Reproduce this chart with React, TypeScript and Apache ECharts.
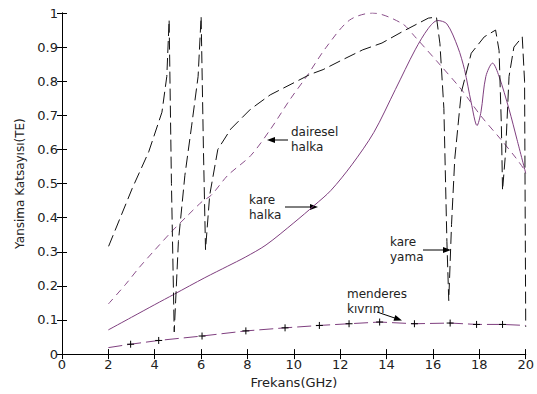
import React, { useEffect, useRef } from "react";
import * as echarts from "echarts";

// ---- Data ----
const xTicks = { min: 0, max: 20, interval: 2 };
const yTicks = { min: 0, max: 1, interval: 0.1 };

// "kare yama" (black long-dashed)
const kareYama: number[][] = [
  [2.01, 0.316], [3.03, 0.486], [3.74, 0.593], [4.31, 0.709], [4.52, 0.814], [4.62, 0.98],
  [4.72, 0.5], [4.84, 0.065], [5.02, 0.33], [5.3, 0.524], [5.59, 0.669], [5.87, 0.814],
  [6.0, 0.99], [6.1, 0.6], [6.19, 0.306], [6.37, 0.466], [6.72, 0.6], [7.28, 0.66],
  [8.13, 0.718], [8.98, 0.76], [10.13, 0.8], [10.7, 0.82], [11.26, 0.834], [12.1, 0.863],
  [12.97, 0.892], [13.8, 0.912], [14.67, 0.945], [15.8, 0.985], [16.15, 0.988], [16.3, 0.91],
  [16.47, 0.72], [16.6, 0.33], [16.68, 0.157], [16.8, 0.38], [16.94, 0.573], [17.22, 0.767],
  [17.65, 0.882], [18.21, 0.93], [18.7, 0.95], [18.85, 0.89], [18.95, 0.669], [19.0, 0.48],
  [19.13, 0.59], [19.28, 0.814], [19.49, 0.9], [19.85, 0.93], [19.95, 0.8], [20, 0.08],
];

// "dairesel halka" (purple dashed)
const daireselHalka: number[][] = [
  [2, 0.147], [2.75, 0.205], [3.32, 0.253], [4, 0.305], [4.74, 0.36], [5.4, 0.405],
  [6.04, 0.447], [6.44, 0.466], [7.15, 0.524], [8.14, 0.582], [9, 0.66], [9.84, 0.747],
  [10.55, 0.814], [11.4, 0.9], [12.4, 0.979], [13.4, 1.0], [14.67, 0.969], [15.23, 0.93],
  [16.37, 0.843], [17.22, 0.776], [18.07, 0.698], [18.92, 0.63], [19.6, 0.573], [20, 0.535],
];

// "kare halka" (purple solid)
const kareHalka: number[][] = [
  [2, 0.071], [3, 0.108], [4, 0.145], [4.85, 0.176], [6.16, 0.224], [7.15, 0.258],
  [7.9, 0.284], [8.8, 0.32], [10, 0.385], [10.9, 0.437], [11.6, 0.48], [12.5, 0.555],
  [13.45, 0.65], [14.38, 0.776], [15.23, 0.892], [15.8, 0.955], [16.2, 0.978], [16.6, 0.968],
  [17.07, 0.9], [17.36, 0.834], [17.65, 0.737], [17.9, 0.67], [18.07, 0.71], [18.28, 0.814],
  [18.57, 0.853], [18.85, 0.814], [19.28, 0.718], [19.62, 0.63], [20, 0.53],
];

// "menderes kıvrım" (purple dashed with + markers)
const menderes: number[][] = [
  [2, 0.019], [2.96, 0.029], [4.17, 0.04], [6.04, 0.053], [7.93, 0.068], [9.62, 0.077],
  [11.1, 0.084], [12.38, 0.089], [13.7, 0.094], [15.2, 0.089], [16.74, 0.091], [17.88, 0.087],
  [19.0, 0.087], [20, 0.084],
];

// annotation texts (pixel placement of callouts)
const annotations = [
  { lines: ["dairesel", "halka"], x: 291, y: 132, arrow: [288, 140, 267, 140] },
  { lines: ["kare", "halka"], x: 249, y: 200, arrow: [285, 207, 318, 207] },
  { lines: ["kare", "yama"], x: 390, y: 242, arrow: [423, 250, 451, 250] },
  { lines: ["menderes", "kıvrım"], x: 347, y: 294, arrow: [377, 312, 402, 320.5] },
];

const FONT = '"DejaVu Sans", "Liberation Sans", Arial, sans-serif';
const PURPLE = "#7f3f7f";
const TEXT = "#222";

function buildGraphic() {
  const els: any[] = [];
  annotations.forEach((a) => {
    a.lines.forEach((t, i) => {
      els.push({
        type: "text",
        x: a.x,
        y: a.y + i * 15,
        style: { text: t, fill: TEXT, font: `12px ${FONT}`, verticalAlign: "middle", align: "left" },
        silent: true,
      });
    });
    const [x1, y1, x2, y2] = a.arrow;
    const dx = x2 - x1, dy = y2 - y1;
    const len = Math.sqrt(dx * dx + dy * dy);
    const ux = dx / len, uy = dy / len;
    const nx = -uy, ny = ux;
    const hl = 8, hw = 3;
    els.push({
      type: "line",
      shape: { x1, y1, x2: x2 - ux * hl * 0.8, y2: y2 - uy * hl * 0.8 },
      style: { stroke: "#000", lineWidth: 1 },
      silent: true,
    });
    els.push({
      type: "polygon",
      shape: {
        points: [
          [x2, y2],
          [x2 - ux * hl + nx * hw, y2 - uy * hl + ny * hw],
          [x2 - ux * hl - nx * hw, y2 - uy * hl - ny * hw],
        ],
      },
      style: { fill: "#000" },
      silent: true,
    });
  });
  return els;
}

const plusSymbol = "path://M0,5L10,5M5,0L5,10";

export default function App() {
  const ref = useRef<HTMLDivElement>(null);
  useEffect(() => {
    document.body.style.margin = "0";
    if (!ref.current) return;
    const chart = echarts.init(ref.current, undefined, { renderer: "svg" });
    const axisText = { color: TEXT, fontSize: 13, fontFamily: FONT };
    chart.setOption({
      animation: false,
      backgroundColor: "#fff",
      grid: { left: 62, right: 4, top: 13, bottom: 37 },
      xAxis: [
        {
          type: "value",
          position: "bottom",
          min: xTicks.min,
          max: xTicks.max,
          interval: xTicks.interval,
          name: "Frekans(GHz)",
          nameLocation: "middle",
          nameGap: 20,
          nameTextStyle: { color: TEXT, fontSize: 13, fontFamily: FONT },
          axisLine: { show: true, lineStyle: { color: "#000", width: 1 } },
          axisTick: { show: true, inside: true, length: 5, lineStyle: { color: "#000" } },
          axisLabel: { ...axisText, margin: 4 },
          splitLine: { show: false },
        },
        {
          type: "value",
          position: "top",
          min: xTicks.min,
          max: xTicks.max,
          interval: xTicks.interval,
          axisLine: { show: true, lineStyle: { color: "#000", width: 1 } },
          axisTick: { show: true, inside: true, length: 5, lineStyle: { color: "#000" } },
          axisLabel: { show: false },
          splitLine: { show: false },
        },
      ],
      yAxis: [
        {
          type: "value",
          position: "left",
          min: yTicks.min,
          max: yTicks.max,
          interval: yTicks.interval,
          name: "Yansima Katsayısı(TE)",
          nameLocation: "middle",
          nameGap: 35,
          nameTextStyle: { color: TEXT, fontSize: 12, fontFamily: FONT },
          axisLine: { show: true, lineStyle: { color: "#000", width: 1 } },
          axisTick: { show: true, inside: true, length: 5, lineStyle: { color: "#000" } },
          axisLabel: { ...axisText, margin: 4 },
          splitLine: { show: false },
        },
        {
          type: "value",
          position: "right",
          min: yTicks.min,
          max: yTicks.max,
          interval: yTicks.interval,
          axisLine: { show: true, lineStyle: { color: "#000", width: 1 } },
          axisTick: { show: true, inside: true, length: 5, lineStyle: { color: "#000" } },
          axisLabel: { show: false },
          splitLine: { show: false },
        },
      ],
      series: [
        {
          name: "dairesel halka",
          type: "line",
          data: daireselHalka,
          smooth: 0.3,
          showSymbol: false,
          lineStyle: { color: "#8a4f8a", width: 1, type: [7, 5] },
        },
        {
          name: "kare halka",
          type: "line",
          data: kareHalka,
          smooth: 0.3,
          showSymbol: false,
          lineStyle: { color: PURPLE, width: 1 },
        },
        {
          name: "kare yama",
          type: "line",
          data: kareYama,
          smooth: false,
          showSymbol: false,
          lineStyle: { color: "#111", width: 1, type: [12, 5] },
        },
        {
          name: "menderes kıvrım",
          type: "line",
          data: menderes.map((p, i) => ({
            value: p,
            symbol: i === 0 || i === menderes.length - 1 ? "none" : plusSymbol,
          })),
          smooth: false,
          symbol: plusSymbol,
          symbolSize: 7,
          showSymbol: true,
          itemStyle: { color: "none", borderColor: "#000", borderWidth: 1 },
          lineStyle: { color: PURPLE, width: 1, type: [14, 5] },
        },
      ],
      graphic: buildGraphic(),
    });
    return () => chart.dispose();
  }, []);
  return <div ref={ref} style={{ width: 537, height: 394 }} />;
}
